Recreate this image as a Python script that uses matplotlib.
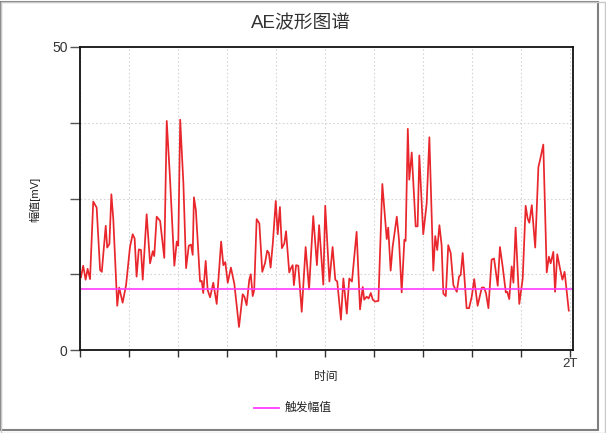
import matplotlib
matplotlib.use("Agg")
import matplotlib.pyplot as plt
from matplotlib.patches import Rectangle
from matplotlib.lines import Line2D
from matplotlib.ticker import FixedLocator

plt.rcParams['font.family'] = ['Liberation Sans', 'Noto Sans CJK SC', 'DejaVu Sans']

# ---- data (time in units of T, amplitude in mV) ----
time_T = [0.004, 0.013, 0.023, 0.031, 0.041, 0.054, 0.068, 0.082, 0.089, 0.105,
          0.111, 0.120, 0.128, 0.136, 0.152, 0.160, 0.174, 0.188, 0.204, 0.215,
          0.223, 0.231, 0.240, 0.249, 0.256, 0.272, 0.286, 0.297, 0.303, 0.313,
          0.327, 0.344, 0.354, 0.367, 0.385, 0.395, 0.401, 0.409, 0.422, 0.433,
          0.444, 0.453, 0.460, 0.465, 0.473, 0.490, 0.497, 0.503, 0.513, 0.521,
          0.531, 0.544, 0.558, 0.576, 0.585, 0.593, 0.603, 0.616, 0.630, 0.649,
          0.664, 0.671, 0.680, 0.691, 0.697, 0.705, 0.711, 0.721, 0.732, 0.744,
          0.755, 0.764, 0.771, 0.778, 0.787, 0.799, 0.807, 0.816, 0.824, 0.834,
          0.841, 0.854, 0.861, 0.868, 0.873, 0.882, 0.891, 0.905, 0.921, 0.935,
          0.952, 0.967, 0.976, 0.993, 1.001, 1.018, 1.031, 1.042, 1.050, 1.065,
          1.075, 1.089, 1.099, 1.110, 1.129, 1.143, 1.154, 1.160, 1.170, 1.178,
          1.187, 1.195, 1.204, 1.218, 1.234, 1.252, 1.258, 1.268, 1.276, 1.293,
          1.302, 1.313, 1.324, 1.329, 1.338, 1.344, 1.354, 1.370, 1.378, 1.385,
          1.401, 1.415, 1.426, 1.442, 1.450, 1.458, 1.467, 1.476, 1.483, 1.493,
          1.503, 1.513, 1.524, 1.538, 1.547, 1.554, 1.562, 1.578, 1.588, 1.599,
          1.609, 1.623, 1.640, 1.649, 1.657, 1.667, 1.680, 1.690, 1.705, 1.714,
          1.725, 1.738, 1.744, 1.752, 1.762, 1.769, 1.778, 1.793, 1.807, 1.819,
          1.827, 1.834, 1.844, 1.858, 1.871, 1.878, 1.891, 1.905, 1.914, 1.921,
          1.932, 1.939, 1.948, 1.959, 1.969, 1.978, 1.995]
amplitude_mV = [12.0, 13.9, 11.6, 13.4, 11.7, 24.5, 23.5, 13.2, 12.9, 20.5,
                16.9, 17.5, 25.7, 21.5, 7.3, 10.3, 7.8, 10.7, 17.0, 19.1,
                18.4, 12.1, 16.6, 16.5, 11.6, 22.4, 14.3, 16.3, 15.5, 22.0,
                21.3, 15.2, 37.8, 28.6, 13.9, 17.9, 17.2, 38.0, 27.5, 13.5,
                17.2, 17.4, 15.7, 25.2, 23.1, 11.3, 11.4, 9.4, 14.7, 9.9,
                8.7, 11.1, 7.6, 17.9, 14.0, 14.5, 11.1, 13.6, 10.9, 3.8,
                9.2, 8.8, 7.4, 11.6, 12.5, 8.9, 9.9, 21.6, 20.9, 12.9,
                14.3, 16.4, 16.0, 13.6, 17.6, 24.6, 19.1, 23.6, 16.8, 17.6,
                19.6, 12.8, 13.5, 14.0, 10.7, 14.0, 13.9, 6.3, 17.0, 10.0,
                22.1, 14.0, 20.6, 10.8, 23.8, 11.3, 17.0, 11.6, 11.3, 5.0,
                11.8, 6.0, 11.8, 11.3, 19.5, 6.7, 10.4, 8.3, 8.8, 8.5,
                9.4, 8.3, 8.0, 8.1, 27.4, 18.3, 20.2, 13.1, 17.0, 22.0,
                18.2, 9.5, 18.2, 18.0, 36.5, 28.1, 32.6, 20.4, 20.4, 32.1,
                19.1, 24.2, 35.1, 13.1, 18.8, 16.5, 20.6, 17.3, 9.3, 8.9,
                17.3, 16.0, 10.7, 9.6, 12.1, 12.4, 16.0, 6.9, 6.9, 8.8,
                11.7, 7.3, 10.3, 10.3, 9.4, 6.9, 14.9, 15.1, 10.6, 17.0,
                13.8, 9.5, 9.6, 8.4, 13.8, 11.1, 20.2, 7.6, 11.8, 23.8,
                21.7, 21.0, 23.9, 16.9, 30.2, 31.4, 33.9, 12.8, 15.4, 14.3,
                16.2, 9.6, 15.8, 13.5, 11.6, 12.9, 6.5]
trigger_level = 10.0
x_ticks = [0.0, 0.2, 0.4, 0.6, 0.8, 1.0, 1.2, 1.4, 1.6, 1.8, 2.0]
x_tick_labels = ['', '', '', '', '', '', '', '', '', '', '2T']
y_major = [0, 50]
y_minor = [12.5, 25, 37.5]

title = 'AE波形图谱'
xlabel = '时间'
ylabel = '幅值[mV]'
legend_label = '触发幅值'

W, H = 606, 433
fig = plt.figure(figsize=(W / 100, H / 100), dpi=100)
fig.patch.set_facecolor('white')

# figure frame
fig.add_artist(Rectangle((1 / W, 3 / H), 597 / W, 428 / H, transform=fig.transFigure,
                         fill=False, edgecolor='#808080', linewidth=1.5))
fig.add_artist(Rectangle((0.5 / W, 0.5 / H), 604 / W, 431 / H, transform=fig.transFigure,
                         fill=False, edgecolor='#c8c8c8', linewidth=1.0))

ax = fig.add_axes([80 / W, (H - 350) / H, 493 / W, 303 / H])
ax.plot(time_T, amplitude_mV, color='#e8262b', linewidth=1.25)
ax.axhline(trigger_level, color='#ff3bff', linewidth=1.2)

ax.set_xlim(0, 493 / 245)
ax.set_ylim(0, 50)

ax.set_xticks(x_ticks)
ax.set_xticklabels(x_tick_labels, fontsize=9.5, color='#333333')
ax.set_yticks(y_major)
ax.set_yticklabels([str(v) for v in y_major], fontsize=10, color='#333333')
ax.yaxis.set_minor_locator(FixedLocator(y_minor))

ax.tick_params(axis='x', direction='out', length=5, width=1, color='#333333', pad=1)
ax.tick_params(axis='y', which='both', direction='out', length=7, width=1, color='#555555', pad=2)

ax.grid(True, axis='x', which='major', color='#d6d6d6', linestyle=(0, (1.5, 2)), linewidth=0.8)
ax.grid(True, axis='y', which='minor', color='#d6d6d6', linestyle=(0, (1.5, 2)), linewidth=0.8)
ax.set_axisbelow(True)

for s in ax.spines.values():
    s.set_color('#111111')
    s.set_linewidth(1.3)

fig.text(301 / W, 1 - 24 / H, title, ha='center', va='center', fontsize=13.5, color='#333333')
fig.text(326 / W, 1 - 377 / H, xlabel, ha='center', va='center', fontsize=8.5, color='#222222')
fig.text(35 / W, 1 - 199 / H, ylabel, ha='center', va='center', rotation=90, fontsize=8, color='#222222')

# legend
fig.add_artist(Line2D([254 / W, 279 / W], [1 - 408 / H, 1 - 408 / H], transform=fig.transFigure,
                      color='#ff3bff', linewidth=1.3))
fig.text(285 / W, 1 - 408 / H, legend_label, ha='left', va='center', fontsize=8.5, color='#222222')

fig.savefig('out.png', dpi=100)
